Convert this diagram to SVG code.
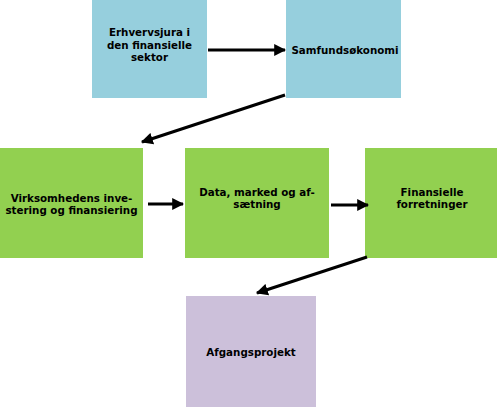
<svg xmlns="http://www.w3.org/2000/svg" width="500" height="407" viewBox="0 0 500 407">
<style>
text{font-family:"DejaVu Sans","Verdana",sans-serif;font-weight:bold;font-size:10.3px;fill:#000;text-anchor:middle}
.blue{fill:#96CFDD}
.green{fill:#92D050}
.purple{fill:#CCC0DA}
.conn{stroke:#000;stroke-width:3;fill:none;marker-end:url(#ah)}
</style>
<defs>
<marker id="ah" viewBox="0 0 10 10" refX="9" refY="5" markerWidth="4" markerHeight="4" orient="auto" markerUnits="strokeWidth">
<path d="M0,0 L10,5 L0,10 z" fill="#000"/>
</marker>
</defs>
<rect width="500" height="407" fill="#fff"/>
<g id="n1"><rect class="blue" x="92" y="0" width="115" height="98"/>
<text x="149.5" y="36">Erhvervsjura i</text><text x="149.5" y="48.5">den finansielle</text><text x="149.5" y="61">sektor</text></g>
<g id="n2"><rect class="blue" x="286" y="0" width="115" height="98"/>
<text x="345" y="54">Samfundsøkonomi</text></g>
<g id="n3"><rect class="green" x="0" y="148" width="143" height="110"/>
<text x="71.5" y="202">Virksomhedens inve-</text><text x="71.5" y="214">stering og finansiering</text></g>
<g id="n4"><rect class="green" x="185" y="148" width="144" height="110"/>
<text x="257" y="196">Data, marked og af-</text><text x="257" y="208">sætning</text></g>
<g id="n5"><rect class="green" x="365" y="148" width="132" height="110"/>
<text x="432" y="196">Finansielle</text><text x="432" y="208">forretninger</text></g>
<g id="n6"><rect class="purple" x="186" y="296" width="130" height="111"/>
<text x="251" y="356">Afgangsprojekt</text></g>
<g id="connectors">
<line class="conn" x1="208" y1="50" x2="285" y2="50"/>
<line class="conn" x1="285" y1="95" x2="142" y2="142"/>
<line class="conn" x1="148" y1="204" x2="183" y2="204"/>
<line class="conn" x1="331" y1="205" x2="368" y2="205"/>
<line class="conn" x1="367" y1="257" x2="257" y2="293"/>
</g>
</svg>
